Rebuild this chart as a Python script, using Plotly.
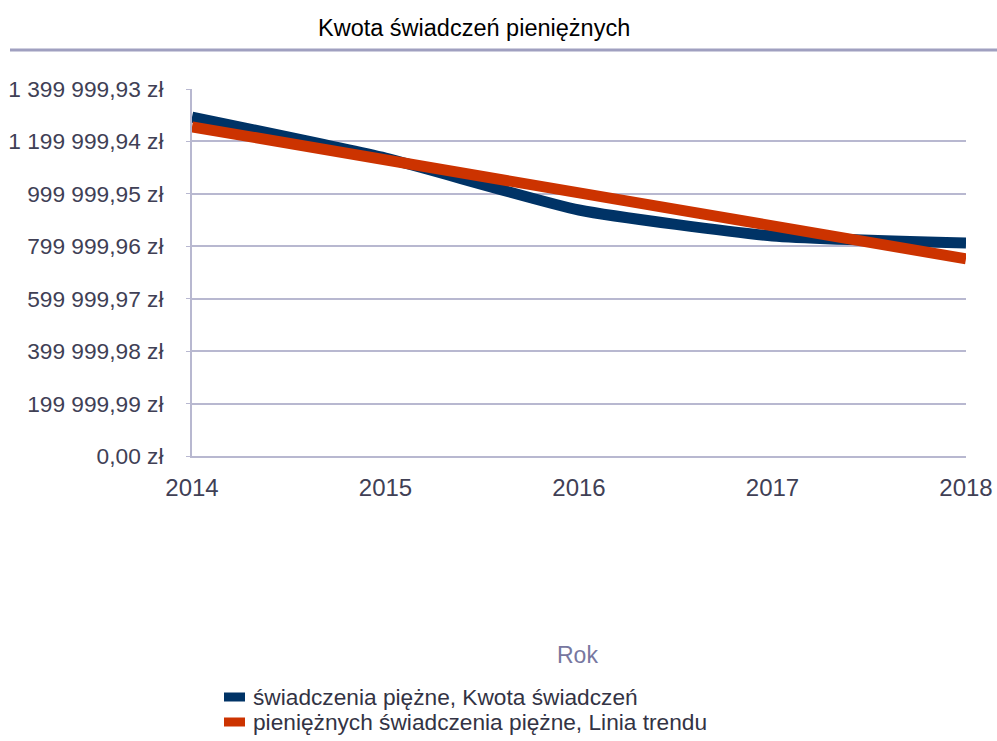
import numpy as np
import plotly.graph_objects as go

years = [2014, 2015, 2016, 2017, 2018]
kwota = [1293000, 1136700, 938400, 839200, 812500]
series_name = "świadczenia piężne, Kwota świadczeń"
trend_name = "pieniężnych świadczenia piężne, Linia trendu"
tick_vals = [0.00, 199999.99, 399999.98, 599999.97, 799999.96, 999999.95, 1199999.94, 1399999.93]
tick_text = ["0,00 zł", "199 999,99 zł", "399 999,98 zł", "599 999,97 zł",
             "799 999,96 zł", "999 999,95 zł", "1 199 999,94 zł", "1 399 999,93 zł"]

coef = np.polyfit(years, kwota, 1)
trend = list(np.polyval(coef, years))

FONT = "Liberation Sans, Arial, sans-serif"
GRID = "#b8b8d0"
BLUE = "#003366"
RED = "#cc3300"

L, R, T, B = 192, 31, 89, 285
PW = 997 - L - R
PH = 741 - T - B


def px(x):
    return (x - L) / PW


def py(y):
    return (741 - B - y) / PH


fig = go.Figure()
fig.add_trace(go.Scatter(x=years, y=kwota, mode="lines", name=series_name, showlegend=False,
                         line=dict(color=BLUE, width=11, shape="spline", smoothing=0.5)))
fig.add_trace(go.Scatter(x=years, y=trend, mode="lines", name=trend_name, showlegend=False,
                         line=dict(color=RED, width=11)))

annotations = [
    dict(text="Kwota świadczeń pieniężnych", xref="paper", yref="paper",
         x=px(474), y=py(28), xanchor="center", yanchor="middle",
         showarrow=False, font=dict(size=23.5, color="#000000", family=FONT)),
    dict(text="Rok", xref="paper", yref="paper",
         x=px(577), y=py(655), xanchor="center", yanchor="middle",
         showarrow=False, font=dict(size=23, color="#7777a0", family=FONT)),
]
shapes = [
    dict(type="line", xref="paper", yref="paper",
         x0=px(10), x1=px(997), y0=py(50), y1=py(50),
         line=dict(color="#a0a0c0", width=3)),
]
for name, color, yc in [(series_name, BLUE, 697), (trend_name, RED, 722)]:
    shapes.append(dict(type="rect", xref="paper", yref="paper",
                       x0=px(224), x1=px(245), y0=py(yc + 4.5), y1=py(yc - 4.5),
                       fillcolor=color, line=dict(width=0)))
    annotations.append(dict(text=name, xref="paper", yref="paper",
                            x=px(251), y=py(yc), xanchor="left", yanchor="middle",
                            showarrow=False, font=dict(size=22.7, color="#333344", family=FONT)))

fig.update_layout(
    width=997, height=741,
    margin=dict(l=L, r=R, t=T, b=B, autoexpand=False),
    paper_bgcolor="white", plot_bgcolor="white",
    font=dict(family=FONT, size=22, color="#404055"),
    showlegend=False,
    xaxis=dict(range=[2014, 2018], tickvals=years, ticktext=[str(y) for y in years],
               showgrid=False, showline=True, linecolor=GRID, linewidth=2,
               ticks="outside", ticklen=1, tickcolor="rgba(0,0,0,0)", ticklabelstandoff=8,
               tickfont=dict(size=24, color="#404055"), zeroline=False),
    yaxis=dict(range=[0, 1399999.93], tickvals=tick_vals, ticktext=tick_text,
               showgrid=True, gridcolor=GRID, gridwidth=1.5,
               showline=True, linecolor=GRID, linewidth=2,
               ticks="outside", ticklen=4, tickcolor=GRID, ticklabelstandoff=18,
               tickfont=dict(size=22.7, color="#404055"), zeroline=False),
    annotations=annotations,
    shapes=shapes,
)

fig.write_html("out.html", config={"displayModeBar": False},
               post_script="document.body.style.margin='0';document.body.style.overflow='hidden';")
